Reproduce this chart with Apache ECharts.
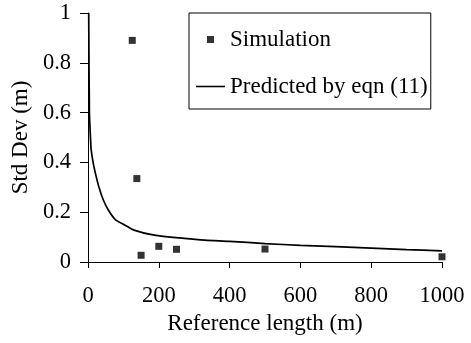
<!DOCTYPE html>
<html>
<head>
<meta charset="utf-8">
<script src="https://cdn.jsdelivr.net/npm/echarts@6/dist/echarts.min.js"></script>
<style>
  html, body { margin: 0; padding: 0; background: #fff; }
  #chart { width: 471px; height: 343px; }
</style>
</head>
<body>
<div id="chart"></div>
<script>
// simulation points (reference length m, std dev m)
const simLength = [125, 138, 150, 200, 250, 500, 1000]
const simStdDev = [0.89, 0.335, 0.027, 0.063, 0.051, 0.052, 0.021]

// curve predicted by eqn (11)
const predLength = [2, 4, 7, 9, 15, 22, 31, 43, 57, 78, 100, 130, 187, 272, 330, 400, 500, 600, 800, 900, 1000]
const predStdDev = [1.0, 0.6, 0.5, 0.45, 0.395, 0.35, 0.3, 0.25, 0.21, 0.169, 0.152, 0.128, 0.108, 0.095, 0.088, 0.083, 0.074, 0.067, 0.056, 0.05, 0.045]

const FONT = 'Liberation Serif'
const FS = 22.5
const FS_NAME = 23

const chart = echarts.init(document.getElementById('chart'), null, { renderer: 'canvas' })

const option = {
  backgroundColor: '#fff',
  animation: false,
  textStyle: { fontFamily: FONT, color: '#000' },
  grid: { left: 88, right: 29, top: 13, bottom: 81, containLabel: false, outerBoundsMode: 'none' },
  legend: {
    left: 189,
    top: 13,
    orient: 'vertical',
    borderColor: '#000',
    borderWidth: 1,
    borderRadius: 0,
    padding: [15, 3, 11, 7],
    itemGap: 24,
    itemWidth: 29,
    itemHeight: 7,
    symbolKeepAspect: true,
    textStyle: { fontFamily: FONT, fontSize: FS_NAME, color: '#000' },
    data: [
      { name: 'Simulation', icon: 'path://M0,0H1V1H0Z' },
      { name: 'Predicted by eqn (11)', icon: 'path://M0,0H30V1.6H0Z' },
    ],
  },
  xAxis: {
    type: 'value',
    min: 0,
    max: 1000,
    interval: 200,
    name: 'Reference length (m)',
    nameLocation: 'middle',
    nameGap: 45,
    nameTextStyle: { fontFamily: FONT, fontSize: FS_NAME, color: '#000' },
    axisLine: { lineStyle: { color: '#000', width: 1 } },
    axisTick: { show: true, inside: false, length: 6, lineStyle: { color: '#000' } },
    axisLabel: { fontFamily: FONT, fontSize: FS, color: '#000', margin: 23, formatter: v => String(v) },
    splitLine: { show: false },
  },
  yAxis: {
    type: 'value',
    min: 0,
    max: 1,
    interval: 0.2,
    name: 'Std Dev (m)',
    nameLocation: 'middle',
    nameGap: 45,
    nameTextStyle: { fontFamily: FONT, fontSize: FS_NAME, color: '#000' },
    axisLine: { show: true, lineStyle: { color: '#000', width: 1 } },
    axisTick: { show: true, inside: false, length: 8, lineStyle: { color: '#000' } },
    axisLabel: { fontFamily: FONT, fontSize: FS, color: '#000', margin: 17 },
    splitLine: { show: false },
  },
  series: [
    {
      name: 'Simulation',
      type: 'scatter',
      symbol: 'rect',
      symbolSize: 7,
      itemStyle: { color: '#000' },
      data: simLength.map((x, i) => [x, simStdDev[i]]),
      z: 3,
    },
    {
      name: 'Predicted by eqn (11)',
      type: 'line',
      symbol: 'none',
      smooth: 0.25,
      lineStyle: { color: '#000', width: 1.7 },
      itemStyle: { color: '#000' },
      data: predLength.map((x, i) => [x, predStdDev[i]]),
      z: 2,
    },
  ],
}

chart.setOption(option)
</script>
</body>
</html>
